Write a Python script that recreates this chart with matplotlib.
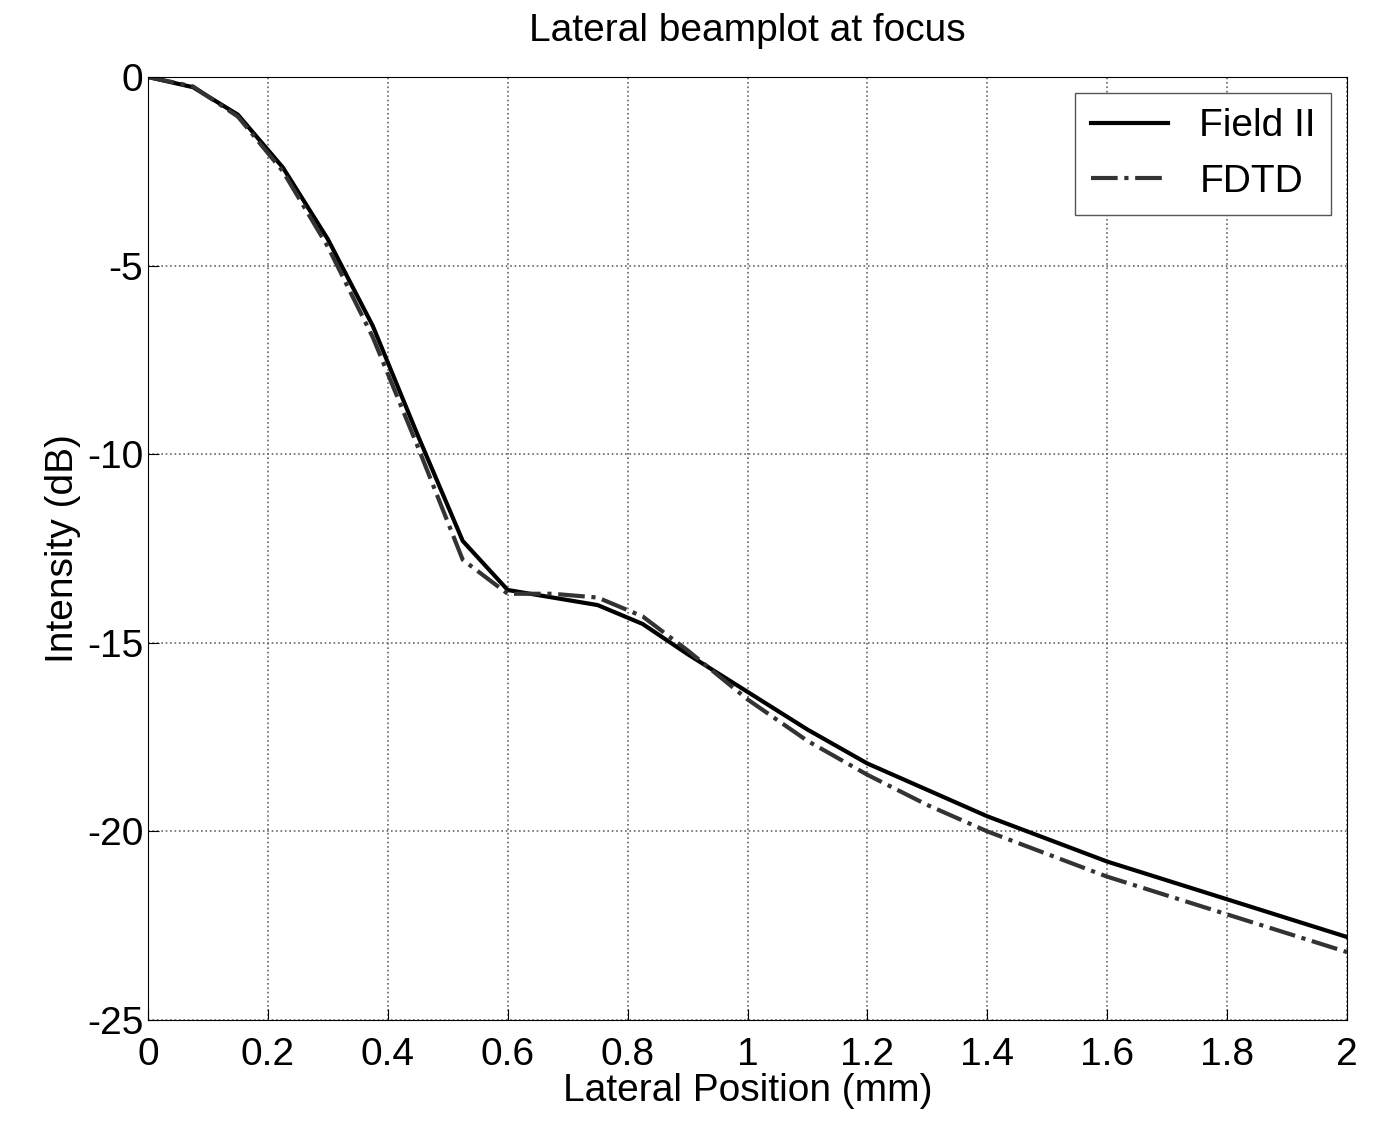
import matplotlib
matplotlib.use("Agg")
import matplotlib.pyplot as plt

plt.rcParams["font.family"] = ["Liberation Sans", "DejaVu Sans"]
plt.rcParams["axes.unicode_minus"] = False

pos = [0, 0.075, 0.15, 0.225, 0.3, 0.375, 0.45, 0.525, 0.6, 0.675, 0.75, 0.825, 0.9,
       1.0, 1.1, 1.2, 1.3, 1.4, 1.5, 1.6, 1.7, 1.8, 1.9, 2.0]
field2 = [0, -0.27, -1.0, -2.4, -4.3, -6.6, -9.5, -12.3, -13.6, -13.8, -14.0, -14.5, -15.3,
          -16.3, -17.3, -18.2, -18.9, -19.6, -20.2, -20.8, -21.3, -21.8, -22.3, -22.8]
fdtd = [0, -0.25, -1.05, -2.5, -4.5, -6.9, -9.8, -12.8, -13.7, -13.7, -13.8, -14.3, -15.2,
        -16.5, -17.6, -18.5, -19.3, -20.0, -20.6, -21.2, -21.7, -22.2, -22.7, -23.2]

fig = plt.figure(figsize=(13.76, 11.27), dpi=100)
ax = fig.add_axes([148 / 1376, 1 - 1020 / 1127, 1199 / 1376, 943 / 1127])
ax.plot(pos, field2, "k-", lw=3, label="Field II")
ax.plot(pos, fdtd, color="#333333", ls="-.", lw=3, label="FDTD")
ax.set_xlim(0, 2)
ax.set_ylim(-25, 0)
ax.set_xticks([0, 0.2, 0.4, 0.6, 0.8, 1, 1.2, 1.4, 1.6, 1.8, 2])
ax.set_xticklabels(["0", "0.2", "0.4", "0.6", "0.8", "1", "1.2", "1.4", "1.6", "1.8", "2"])
ax.set_yticks([-25, -20, -15, -10, -5, 0])
ax.grid(True, ls=":", color="#666666", lw=1.2)
ax.tick_params(labelsize=28, direction="in", length=8)
ax.tick_params(axis="x", pad=12)
ax.set_xlabel("Lateral Position (mm)", fontsize=28, labelpad=0)
ax.set_ylabel("Intensity (dB)", fontsize=28, labelpad=4)
ax.set_title("Lateral beamplot at focus", fontsize=28, pad=26)
ax.legend(loc="upper right", fontsize=28, fancybox=False, edgecolor="#555555",
          handlelength=2.0, framealpha=1, borderaxespad=0.4)
fig.savefig("out.png", dpi=100)
